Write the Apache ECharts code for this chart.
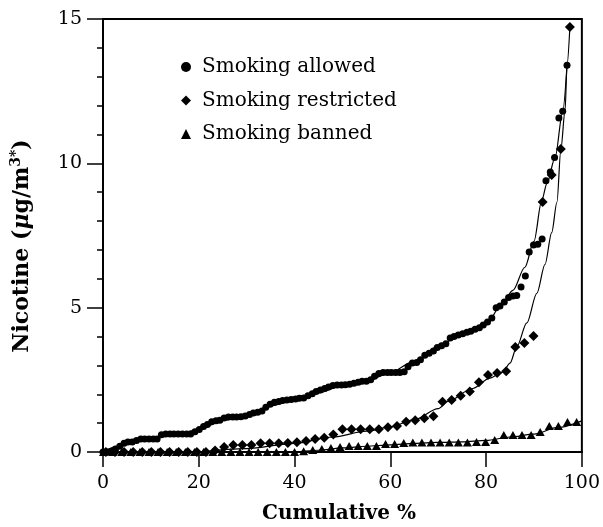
<!DOCTYPE html>
<html>
<head>
<meta charset="utf-8">
<script src="https://cdn.jsdelivr.net/npm/echarts@6/dist/echarts.min.js"></script>
<style>
  html, body { margin: 0; padding: 0; background: #fff; }
  #chart { width: 603px; height: 527px; }
</style>
</head>
<body>
<div id="chart"></div>
<script>
// Cumulative distributions of airborne nicotine by smoking policy
var allowedX = [0, 0.9, 1.7, 2.6, 3.5, 4.4, 5.2, 6.1, 7.0, 7.9, 8.7, 9.6, 10.5, 11.3, 12.2, 13.1, 14.0, 14.8, 15.7, 16.6,
  17.5, 18.3, 19.2, 20.1, 21.0, 21.8, 22.7, 23.6, 24.4, 25.3, 26.2, 27.1, 27.9, 28.8, 29.7, 30.6, 31.4, 32.3, 33.2, 34.0,
  34.9, 35.8, 36.7, 37.5, 38.4, 39.3, 40.2, 41.0, 41.9, 42.8, 43.7, 44.5, 45.4, 46.3, 47.1, 48.0, 48.9, 49.8, 50.6, 51.5,
  52.4, 53.3, 54.1, 55.0, 55.9, 56.7, 57.6, 58.5, 59.4, 60.2, 61.1, 62.0, 62.9, 63.7, 64.6, 65.5, 66.3, 67.2, 68.1, 69.0,
  69.8, 70.7, 71.6, 72.5, 73.3, 74.2, 75.1, 76.0, 76.8, 77.7, 78.6, 79.4, 80.3, 81.2, 82.1, 82.9, 83.8, 84.7, 85.6, 86.4,
  87.3, 88.2, 89.0, 89.9, 90.8, 91.7, 92.5, 93.4, 94.3, 95.2, 96.0, 96.9];
var allowedY = [0, 0, 0.03, 0.1, 0.2, 0.3, 0.35, 0.35, 0.4, 0.45, 0.45, 0.45, 0.45, 0.45, 0.6, 0.62, 0.62, 0.62, 0.62, 0.62,
  0.62, 0.62, 0.7, 0.78, 0.88, 0.95, 1.05, 1.08, 1.1, 1.18, 1.21, 1.21, 1.21, 1.22, 1.25, 1.3, 1.35, 1.38, 1.42, 1.55,
  1.65, 1.72, 1.75, 1.78, 1.8, 1.82, 1.84, 1.86, 1.87, 1.95, 2.02, 2.1, 2.15, 2.2, 2.25, 2.3, 2.32, 2.32, 2.33, 2.35,
  2.38, 2.42, 2.45, 2.45, 2.5, 2.62, 2.72, 2.75, 2.75, 2.75, 2.75, 2.75, 2.78, 2.95, 3.08, 3.1, 3.2, 3.35, 3.42, 3.5,
  3.62, 3.68, 3.75, 3.95, 4.0, 4.05, 4.1, 4.15, 4.18, 4.25, 4.3, 4.4, 4.5, 4.64, 5.0, 5.06, 5.2, 5.35, 5.4, 5.42,
  5.72, 6.1, 6.93, 7.17, 7.2, 7.38, 9.4, 9.7, 10.2, 11.57, 11.8, 13.4];

var restrictedX = [0.6, 2.5, 4.4, 6.3, 8.2, 10.1, 12.0, 13.9, 15.8, 17.7, 19.6, 21.5, 23.4, 25.3, 27.2, 29.1, 31.0, 32.9,
  34.8, 36.7, 38.6, 40.5, 42.4, 44.3, 46.2, 48.1, 50.0, 51.9, 53.8, 55.7, 57.6, 59.5, 61.4, 63.3, 65.2, 67.1, 69.0, 70.9,
  72.8, 74.7, 76.6, 78.5, 80.4, 82.3, 84.2, 86.1, 88.0, 89.9, 91.8, 93.7, 95.6, 97.5];
var restrictedY = [0, 0, 0, 0, 0, 0, 0, 0, 0, 0, 0, 0, 0.05, 0.17, 0.24, 0.24, 0.24, 0.3,
  0.3, 0.3, 0.31, 0.34, 0.38, 0.45, 0.49, 0.61, 0.79, 0.79, 0.79, 0.79, 0.79, 0.86, 0.9, 1.05, 1.1, 1.17, 1.24, 1.74,
  1.8, 1.95, 2.1, 2.42, 2.67, 2.74, 2.8, 3.64, 3.78, 4.02, 8.66, 9.6, 10.5, 14.72];

var bannedX = [0.1, 2.0, 3.9, 5.8, 7.7, 9.6, 11.5, 13.4, 15.3, 17.2, 19.1, 21.0, 22.9, 24.8, 26.7, 28.6, 30.5, 32.4,
  34.3, 36.2, 38.1, 40.0, 41.9, 43.8, 45.7, 47.6, 49.5, 51.4, 53.3, 55.2, 57.1, 59.0, 60.9, 62.8, 64.7, 66.6, 68.5, 70.4,
  72.3, 74.2, 76.1, 78.0, 79.9, 81.8, 83.7, 85.6, 87.5, 89.4, 91.3, 93.2, 95.1, 97.0, 98.9];
var bannedY = [0, 0, 0, 0, 0, 0, 0, 0, 0, 0, 0, 0, 0, 0, 0, 0, 0, 0,
  0, 0, 0, 0, 0.03, 0.07, 0.1, 0.14, 0.17, 0.21, 0.21, 0.21, 0.21, 0.28, 0.28, 0.31, 0.33, 0.33, 0.33, 0.33,
  0.33, 0.33, 0.33, 0.35, 0.35, 0.42, 0.59, 0.59, 0.59, 0.59, 0.69, 0.9, 0.9, 1.04, 1.04];

// fitted curves
var allowedFitX = [0, 3, 6, 10, 15, 20, 25, 30, 35, 40, 45, 50, 55, 60, 65, 70, 75, 80, 83, 85.6, 88.1, 90, 91.6, 92.7, 94.4, 96.0, 96.9];
var allowedFitY = [0, 0.2, 0.35, 0.45, 0.6, 0.78, 1.1, 1.25, 1.6, 1.8, 2.05, 2.3, 2.45, 2.75, 3.15, 3.65, 4.1, 4.4, 5.05, 5.6, 6.4, 7.3, 8.7, 9.3, 10.2, 11.8, 13.4];
var restrictedFitX = [20, 30, 40, 48, 55, 60, 65, 70, 72, 77.2, 80.8, 83.5, 85, 86.4, 88.5, 90.6, 92.3, 93.7, 94.8, 95.6, 96.5, 96.9, 97.5];
var restrictedFitY = [0, 0.12, 0.3, 0.52, 0.72, 0.87, 1.12, 1.5, 1.75, 2.2, 2.56, 2.77, 3.08, 3.64, 4.47, 5.5, 6.5, 7.6, 8.66, 10.46, 11.85, 13.4, 14.72];
var bannedFitX = [40, 45, 50, 55, 60, 65, 70, 75, 80, 85, 90, 95, 100];
var bannedFitY = [0, 0.06, 0.14, 0.2, 0.25, 0.3, 0.33, 0.35, 0.4, 0.52, 0.62, 0.85, 1.08];

var seriesNames = ['Smoking allowed', 'Smoking restricted', 'Smoking banned'];
var xTicks = [0, 20, 40, 60, 80, 100];
var yTicks = [0, 5, 10, 15];

function pairs(xs, ys) { return xs.map(function (x, i) { return [x, ys[i]]; }); }

var FONT = '"DejaVu Serif", "Liberation Serif", serif';

function fitLine(xs, ys) {
  return {
    type: 'line', data: pairs(xs, ys), smooth: 0.3, smoothMonotone: 'x',
    showSymbol: false, silent: true, z: 1,
    lineStyle: { color: '#000', width: 1.2 }
  };
}

var chart = echarts.init(document.getElementById('chart'), null, { renderer: 'canvas' });
chart.setOption({
  animation: false,
  backgroundColor: '#fff',
  grid: { left: 103, right: 21, top: 19, bottom: 75, show: true, borderColor: '#000', borderWidth: 2, backgroundColor: 'transparent' },
  legend: {
    data: seriesNames, orient: 'vertical', left: 176, top: 51,
    itemWidth: 10, itemHeight: 10, itemGap: 11.5,
    textStyle: { fontFamily: FONT, fontSize: 20, color: '#000', lineHeight: 22, padding: [0, 0, 0, 6] }
  },
  xAxis: {
    type: 'value', min: xTicks[0], max: xTicks[xTicks.length - 1], interval: 20,
    axisLine: { lineStyle: { color: '#000', width: 2 } },
    axisTick: { show: true, inside: false, length: 15, lineStyle: { color: '#000', width: 1.5 } },
    axisLabel: { margin: 22, fontFamily: FONT, fontSize: 19, color: '#000' },
    splitLine: { show: false }
  },
  yAxis: {
    type: 'value', min: yTicks[0], max: yTicks[yTicks.length - 1], interval: 5,
    axisLine: { show: true, lineStyle: { color: '#000', width: 2 } },
    axisTick: { show: true, inside: false, length: 16, lineStyle: { color: '#000', width: 1.5 } },
    minorTick: { show: true, splitNumber: 5, length: 6, lineStyle: { color: '#000', width: 1.5 } },
    axisLabel: { margin: 21, fontFamily: FONT, fontSize: 19, color: '#000' },
    splitLine: { show: false }
  },
  graphic: [
    {
      type: 'text', x: 22, y: 246, rotation: Math.PI / 2,
      style: {
        text: '{a|Nicotine (}{i|μ}{a|g/m}{s|3*}{a|)}',
        textAlign: 'center', textVerticalAlign: 'middle', align: 'center', verticalAlign: 'middle',
        rich: {
          a: { fontFamily: FONT, fontSize: 22, fontWeight: 'bold', fill: '#000', lineHeight: 26 },
          i: { fontFamily: FONT, fontSize: 22, fontWeight: 'bold', fontStyle: 'italic', fill: '#000', lineHeight: 26 },
          s: { fontFamily: FONT, fontSize: 14, fontWeight: 'bold', fill: '#000', verticalAlign: 'top', lineHeight: 26 }
        }
      }
    },
    {
      type: 'text', x: 339, y: 514,
      style: {
        text: 'Cumulative %', fontFamily: FONT, fontSize: 20, fontWeight: 'bold', fill: '#000',
        textAlign: 'center', textVerticalAlign: 'middle', align: 'center', verticalAlign: 'middle'
      }
    }
  ],
  series: [
    fitLine(allowedFitX, allowedFitY),
    fitLine(restrictedFitX, restrictedFitY),
    fitLine(bannedFitX, bannedFitY),
    {
      name: seriesNames[0], type: 'scatter', data: pairs(allowedX, allowedY),
      symbol: 'circle', symbolSize: 7, itemStyle: { color: '#000', opacity: 1 }, z: 3
    },
    {
      name: seriesNames[1], type: 'scatter', data: pairs(restrictedX, restrictedY),
      symbol: 'diamond', symbolSize: 10, itemStyle: { color: '#000', opacity: 1 }, z: 3
    },
    {
      name: seriesNames[2], type: 'scatter', data: pairs(bannedX, bannedY),
      symbol: 'triangle', symbolSize: [9, 8], itemStyle: { color: '#000', opacity: 1 }, z: 3
    }
  ]
});
</script>
</body>
</html>
